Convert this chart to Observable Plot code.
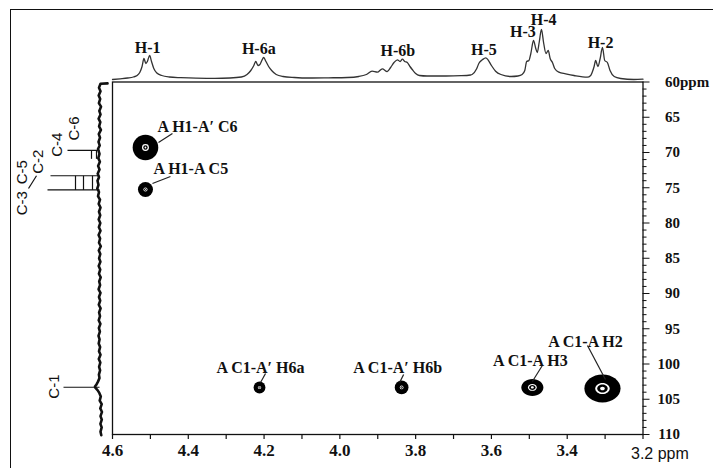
<!DOCTYPE html>
<html><head><meta charset="utf-8">
<script src="https://cdn.jsdelivr.net/npm/d3@7"></script>
<script src="https://cdn.jsdelivr.net/npm/@observablehq/plot@0.6"></script>
<style>
html,body{margin:0;padding:0;background:#fff;width:713px;height:468px;overflow:hidden;}
#wrap{position:relative;width:713px;height:468px;}
#chart{position:absolute;left:0;top:0;}
#border{position:absolute;left:10px;top:9px;width:720px;height:480px;border-top:1.8px solid #111;border-left:1.6px solid #111;pointer-events:none;}
</style></head>
<body><div id="wrap"><div id="chart"></div><div id="border"></div></div>
<script>
// ---------- data ----------
const xTicks = [4.6,4.5,4.4,4.3,4.2,4.1,4.0,3.9,3.8,3.7,3.6,3.5,3.4,3.3,3.2];
const xTickLabels = [4.6,4.4,4.2,4.0,3.8,3.6,3.4];
const yTicks = d3.range(60, 111, 1);
const yTickLabels = [60,65,70,75,80,85,90,95,100,105,110];

// 1H projection (ppm, height)
const topPpm = [4.600,4.580,4.560,4.545,4.535,4.528,4.522,4.517,4.512,4.508,4.502,4.497,4.491,4.483,4.470,4.450,4.420,4.380,4.330,4.290,4.260,4.245,4.235,4.227,4.222,4.216,4.211,4.206,4.201,4.195,4.188,4.180,4.168,4.150,4.120,4.080,4.030,3.980,3.950,3.930,3.915,3.901,3.888,3.875,3.866,3.857,3.848,3.841,3.835,3.829,3.822,3.815,3.809,3.800,3.790,3.770,3.720,3.680,3.655,3.651,3.639,3.633,3.624,3.615,3.609,3.600,3.589,3.575,3.548,3.530,3.519,3.512,3.507,3.501,3.496,3.489,3.483,3.479,3.474,3.468,3.462,3.456,3.450,3.445,3.439,3.433,3.422,3.404,3.382,3.347,3.338,3.334,3.329,3.325,3.319,3.313,3.307,3.301,3.294,3.287,3.276,3.259,3.224,3.200];
const topHeight = [-1,-0.3,0.5,1.5,3,6,12,20,15,17,23,17,10,5.5,3,1.5,0.8,0.3,0.2,0.5,1.5,4,8,13,17,13,14,18,21,17,12,8,4,2,1,0.5,0.7,1,2,4,7.3,6.3,9.7,7,11,16,18.7,17,19.3,17,16,12,9,5,3,2.5,2.5,2.8,3.5,4,9.7,15.3,18.7,20.7,18.7,13,7.3,4,2,2.5,4,8,17,18,25,38,30,26,36,49,35,25,28,20,16,10,6.3,4.7,3,1.3,3,6.3,12,18,12,20,31,18,16,8,2,0,-1,-0.7];

const protonLabels = ["H-1","H-6a","H-6b","H-5","H-3","H-4","H-2"];
const protonLabelPpm = [4.507,4.214,3.847,3.620,3.517,3.462,3.312];
const protonLabelHeight = [31,30,28,29,47,59,36];

// 13C projection (ppm, intensity)
const carbonPpm = [60.2,60.25,60.8,61.3,61.9,62.4,63.0,63.5,64.1,64.6,65.2,65.7,66.3,66.8,67.4,67.9,68.5,69.0,69.5,70.2,70.8,71.3,71.9,72.4,73.0,73.5,74.0,74.6,75.1,75.6,76.2,76.7,77.3,77.8,78.4,78.9,79.5,80.0,80.6,81.1,81.7,82.2,82.8,83.3,83.9,84.4,85.0,85.5,86.1,86.6,87.2,87.7,88.3,88.8,89.4,89.9,90.5,91.0,91.6,92.1,92.7,93.2,93.8,94.3,94.9,95.4,96.0,96.5,97.1,97.6,98.2,98.7,99.3,99.8,100.4,100.9,101.5,102.0,102.5,102.9,103.2,103.4,103.7,104.1,104.6,105.2,105.7,106.3,106.8,107.4,107.9,108.5,109.0,109.6,110.1];
const carbonInt = [-7,0,1.5,0,1.8,0.3,1.6,-0.5,1.2,0,1.9,0.2,1.4,-0.4,1.7,0.5,2,0.8,2.5,1,2.2,0.6,2.4,1,2.8,1.5,3,2,3.2,1.5,2.5,0.5,1.8,0,1.5,0.3,1.8,0.2,1.6,0,1.9,0.4,1.5,-0.3,1.7,0.2,1.4,0.1,1.8,0.3,1.6,-0.2,1.3,0.4,1.9,0,1.5,0.3,1.7,-0.1,1.4,0.5,1.8,0.1,1.6,0.6,2.0,0.9,1.8,0.4,1.5,0,1.7,0.2,1.4,0.4,1.6,1.0,2.5,4,5.5,5,3,1.2,-0.3,0.8,-1.2,0.2,-1.5,0,-1.3,0.1,-1.2,0,-0.8];

const carbonLabels = ["C-6","C-4","C-2","C-5","C-3","C-1"];
const carbonLabelPpm = [66.6,68.9,71.3,72.8,77.2,103.2];
const carbonLabelInt = [26,43,62,78,78,46];
const carbonLeaderPpm = [69.7,73.3,75.3,103.3];
const carbonLeaderLen = [33,50,53,37];
const carbonStrokeFrom = [69.7,69.7,73.3,73.3,73.3];
const carbonStrokeTo = [70.9,70.9,75.3,75.3,75.3];
const carbonStrokeInt = [4,9,8,17,25];

// HMBC cross peaks
const crossLabels = ["A H1-A\u2032 C6","A H1-A C5","A C1-A\u2032 H6a","A C1-A\u2032 H6b","A C1-A H3","A C1-A H2"];
const crossH = [4.513,4.513,4.212,3.837,3.492,3.307];
const crossC = [69.29,75.25,103.33,103.33,103.33,103.48];
const crossVolume = [80,47,37,43,53,87];
const crossShape = ["round","round","round","round","oval","oval"];

// ---------- layout ----------
const W = 713, H = 468, mL = 112, mR = 70.5, mT = 81.5, mB = 34;
const kx = (W - mL - mR) / (4.6 - 3.2);
const ky = (H - mT - mB) / (110 - 60);
const topY = h => 60 - (3.5 + h) / ky;
const carbX = i => 4.6 + (12 + i) / kx;
const offX = (x, px) => x - px / kx;
const offY = (y, px) => y + px / ky;

const serif = "Liberation Serif, Times New Roman, serif";
const sans = "Liberation Sans, Arial, sans-serif";
const ink = "#111";

const labelDx = [12,8,1,-4,-2,-17];
const labelDy = [-21,-21,-20,-20,-27,-47];
const labelAnchor = ["start","start","middle","middle","middle","middle"];
const leaderFrom = [[27,-14],[25,-13],[6,-14],[2,-13],[10,-22],[-15,-43]];
const leaderTo = [[13,-5],[7,-6],[1,-5],[-2,-5],[0,-6],[3,-9]];

const oval = {
  draw(ctx, size) {
    const r = Math.sqrt(size / Math.PI), rx = r * 1.3, ry = r, k = 0.5523;
    ctx.moveTo(rx, 0);
    ctx.bezierCurveTo(rx, ry * k, rx * k, ry, 0, ry);
    ctx.bezierCurveTo(-rx * k, ry, -rx, ry * k, -rx, 0);
    ctx.bezierCurveTo(-rx, -ry * k, -rx * k, -ry, 0, -ry);
    ctx.bezierCurveTo(rx * k, -ry, rx, -ry * k, rx, 0);
    ctx.closePath();
  }
};

const cross = crossLabels.map((label, i) => ({label, h: crossH[i], c: crossC[i], v: crossVolume[i], shape: crossShape[i], i}));
const round = cross.filter(d => d.shape === "round");
const ovals = cross.filter(d => d.shape === "oval");
const roundLayers = [[1, "#000"], [0.27, "#fff"], [0.17, "#000"], [0.07, "#fff"]];
const ovalLayers = [[1, "#000"], [0.4, "#fff"], [0.29, "#000"], [0.13, "#fff"]];

const topIdx = d3.range(topPpm.length);
const cIdx = d3.range(carbonPpm.length);

const marks = [
  Plot.frame({stroke: ink, strokeWidth: 1.3}),
  // bottom ticks
  Plot.ruleX(xTicks, {x: d => d, y1: 110, y2: offY(110, 5), stroke: ink, strokeWidth: 1.2}),
  // right ticks
  Plot.ruleY(yTicks, {y: d => d, x1: 3.2, x2: d => offX(3.2, d % 5 === 0 ? 7 : 4), stroke: ink, strokeWidth: 1}),
  Plot.text(xTickLabels, {x: d => d, y: 110, dy: 16, text: d => d3.format(".1f")(d), fontFamily: serif, fontWeight: "bold", fontSize: 17, fill: ink, lineAnchor: "middle"}),
  Plot.text(yTickLabels, {x: 3.2, y: d => d, dx: 37, text: d => String(d), textAnchor: "end", fontFamily: serif, fontWeight: "bold", fontSize: 15, fill: ink, lineAnchor: "middle"}),
  Plot.text(["ppm"], {x: 3.2, y: 60, dx: 37, text: d => d, textAnchor: "start", fontFamily: serif, fontWeight: "bold", fontSize: 15, fill: ink, lineAnchor: "middle"}),
  Plot.text(["3.2 ppm"], {x: 3.2, y: 110, dx: -12, dy: 19, text: d => d, textAnchor: "start", fontFamily: sans, fontSize: 16, fill: ink, lineAnchor: "middle"}),
  // 1H projection
  Plot.line(topIdx, {x: i => topPpm[i], y: i => topY(topHeight[i]), stroke: "#333", strokeWidth: 1.3, curve: "monotone-x"}),
  Plot.text(protonLabels, {x: (d, i) => protonLabelPpm[i], y: (d, i) => topY(protonLabelHeight[i]), text: d => d, fontFamily: serif, fontWeight: "bold", fontSize: 16, fill: ink, lineAnchor: "middle"}),
  // 13C projection
  Plot.line(cIdx, {x: i => carbX(carbonInt[i]), y: i => carbonPpm[i], stroke: ink, strokeWidth: 2.6, curve: "linear"}),
  Plot.link(carbonLeaderPpm, {x1: carbX(1), x2: (d, i) => carbX(carbonLeaderLen[i]), y1: d => d, y2: d => d, stroke: ink, strokeWidth: 1.2}),
  Plot.link(carbonStrokeInt, {x1: d => carbX(d), x2: d => carbX(d), y1: (d, i) => carbonStrokeFrom[i], y2: (d, i) => carbonStrokeTo[i], stroke: ink, strokeWidth: 1.2}),
  Plot.link([0], {x1: carbX(72), y1: 75.1, x2: carbX(64), y2: 73.3, stroke: ink, strokeWidth: 1.2}),
  Plot.text(carbonLabels, {x: (d, i) => carbX(carbonLabelInt[i]), y: (d, i) => carbonLabelPpm[i], text: d => d, rotate: -90, fontFamily: sans, fontSize: 15, fill: ink, lineAnchor: "middle", textAnchor: "middle"}),
  // cross peaks
  ...roundLayers.map(([f, c]) => Plot.dot(round, {x: "h", y: "c", r: d => d.v * f, fill: c, stroke: null})),
  ...ovalLayers.map(([f, c]) => Plot.dot(ovals, {x: "h", y: "c", r: d => d.v * f, fill: c, stroke: null, symbol: oval})),
  ...cross.map(d => Plot.link([d], {
    x1: offX(d.h, leaderFrom[d.i][0]), y1: offY(d.c, leaderFrom[d.i][1]),
    x2: offX(d.h, leaderTo[d.i][0]), y2: offY(d.c, leaderTo[d.i][1]),
    stroke: "#222", strokeWidth: 1.2})),
  ...cross.map(d => Plot.text([d], {x: "h", y: "c", text: "label", dx: labelDx[d.i], dy: labelDy[d.i], textAnchor: labelAnchor[d.i], fontFamily: serif, fontWeight: "bold", fontSize: 16, fill: ink, lineAnchor: "middle"}))
];

const chart = Plot.plot({
  width: W, height: H,
  marginTop: mT, marginBottom: mB, marginLeft: mL, marginRight: mR,
  x: {domain: [4.6, 3.2], axis: null},
  y: {domain: [60, 110], reverse: true, axis: null},
  r: {type: "linear", domain: [0, 100], range: [0, 16]},
  style: {background: "transparent", overflow: "visible"},
  marks
});
document.getElementById("chart").appendChild(chart);
</script></body></html>
